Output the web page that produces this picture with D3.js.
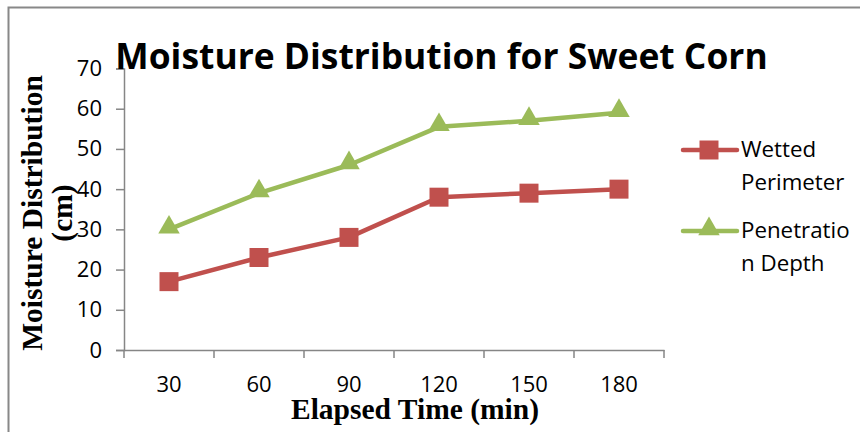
<!DOCTYPE html>
<html>
<head>
<meta charset="utf-8">
<script src="https://cdn.jsdelivr.net/npm/d3@7"></script>
<style>
  html, body { margin: 0; padding: 0; background: #fff; }
  svg { display: block; }
</style>
</head>
<body>
<svg id="chart" width="860" height="432"></svg>
<script>
const categories = ["30", "60", "90", "120", "150", "180"];
const wettedPerimeter = [17, 23, 28, 38, 39, 40];
const penetrationDepth = [30, 39, 46, 55.5, 57, 59];
const yTicks = [0, 10, 20, 30, 40, 50, 60, 70];
const seriesNames = [["Wetted", "Perimeter"], ["Penetratio", "n Depth"]];
const seriesColors = ["#C0504D", "#9BBB59"];
const title = "Moisture Distribution for Sweet Corn";
const yLabel = ["Moisture Distribution", "(cm)"];
const xLabel = "Elapsed Time (min)";

const svg = d3.select("#chart");
const sans = "'Open Sans', Lato, sans-serif";
const serif = "'Liberation Serif', 'Times New Roman', serif";

// outer chart frame (cropped at right/bottom)
svg.append("rect").attr("x", 8.5).attr("y", 7.5).attr("width", 900).attr("height", 500)
  .attr("fill", "none").attr("stroke", "#888").attr("stroke-width", 2);

const plot = { left: 124, right: 664, top: 68.5, bottom: 350 };

const x = d3.scaleBand().domain(categories).range([plot.left, plot.right]);
const y = d3.scaleLinear().domain([0, 70]).range([plot.bottom, plot.top]);

// y axis
const yAxis = svg.append("g").attr("transform", `translate(${plot.left},0)`)
  .call(d3.axisLeft(y).tickValues(yTicks).tickSize(8).tickPadding(14));
yAxis.select(".domain").attr("stroke", "#868686").attr("stroke-width", 1.5);
yAxis.selectAll(".tick line").attr("stroke", "#868686").attr("stroke-width", 1.5);
yAxis.selectAll(".tick text").attr("font-family", sans).attr("font-size", 22).attr("fill", "#000");

// x axis
const xAxis = svg.append("g").attr("transform", `translate(0,${plot.bottom})`)
  .call(d3.axisBottom(x).tickSize(0).tickPadding(26));
xAxis.select(".domain").attr("stroke", "#868686").attr("stroke-width", 1.5);
xAxis.selectAll(".tick text").attr("font-family", sans).attr("font-size", 22).attr("fill", "#000");
// band boundary ticks
const bounds = categories.map(c => x(c)).concat([plot.right]);
xAxis.selectAll(".bt").data(bounds).enter().append("line")
  .attr("x1", d => d).attr("x2", d => d).attr("y1", 0).attr("y2", 8)
  .attr("stroke", "#868686").attr("stroke-width", 1.5);

const cx = c => x(c) + x.bandwidth() / 2;
const line = d3.line().x((d, i) => cx(categories[i])).y(d => y(d));

const allSeries = [wettedPerimeter, penetrationDepth];
allSeries.forEach((vals, si) => {
  svg.append("path").datum(vals).attr("d", line)
    .attr("fill", "none").attr("stroke", seriesColors[si]).attr("stroke-width", 4.5)
    .attr("stroke-linejoin", "round");
});
// markers
const sq = d3.symbol().type(d3.symbolSquare).size(19 * 19);
const tri = d3.symbol().type(d3.symbolTriangle).size(200);
svg.selectAll(".m0").data(wettedPerimeter).enter().append("path")
  .attr("d", sq).attr("transform", (d, i) => `translate(${cx(categories[i])},${y(d)})`)
  .attr("fill", seriesColors[0]);
svg.selectAll(".m1").data(penetrationDepth).enter().append("path")
  .attr("d", tri).attr("transform", (d, i) => `translate(${cx(categories[i])},${y(d) - 2})`)
  .attr("fill", seriesColors[1]);

// title
svg.append("text").attr("x", 441.5).attr("y", 69).attr("text-anchor", "middle")
  .attr("font-family", sans).attr("font-weight", "bold").attr("font-size", 35.4).text(title);

// y label
const yl = svg.append("text").attr("transform", "translate(0,213) rotate(-90)")
  .attr("text-anchor", "middle").attr("font-family", serif).attr("font-weight", "bold").attr("font-size", 29.5);
yl.append("tspan").attr("x", 0).attr("y", 42).text(yLabel[0]);
yl.append("tspan").attr("x", 0).attr("y", 72).text(yLabel[1]);

// x label
svg.append("text").attr("x", 415).attr("y", 419).attr("text-anchor", "middle")
  .attr("font-family", serif).attr("font-weight", "bold").attr("font-size", 29.5).text(xLabel);

// legend
const legY = [150, 231];
const lg = svg.append("g");
seriesNames.forEach((nm, i) => {
  lg.append("line").attr("x1", 683).attr("x2", 737).attr("y1", legY[i]).attr("y2", legY[i])
    .attr("stroke", seriesColors[i]).attr("stroke-width", 4.5).attr("stroke-linecap", "round");
  lg.append("path").attr("d", i === 0 ? sq : tri)
    .attr("transform", `translate(709,${legY[i] - (i === 0 ? 0 : 2)})`).attr("fill", seriesColors[i]);
  const t = lg.append("text").attr("font-family", sans).attr("font-size", 22.3).attr("fill", "#000");
  t.append("tspan").attr("x", 741).attr("y", legY[i] + 7).text(nm[0]);
  t.append("tspan").attr("x", 741).attr("y", legY[i] + 40).text(nm[1]);
});
</script>
</body>
</html>
